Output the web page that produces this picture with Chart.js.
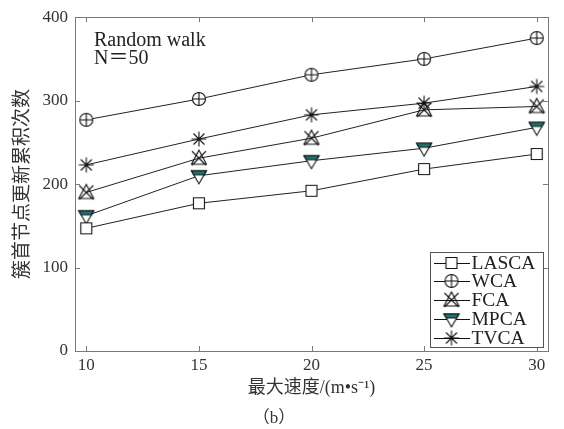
<!DOCTYPE html>
<html>
<head>
<meta charset="utf-8">
<script src="https://cdn.jsdelivr.net/npm/chart.js@4.4.1/dist/chart.umd.min.js"></script>
<style>
  html, body { margin: 0; padding: 0; background: #fff; }
</style>
</head>
<body>
<canvas id="walkChart" width="564" height="429"></canvas>
<script>
// values
const speeds = [10, 15, 20, 25, 30];
const lascaData = [147, 177, 192, 218, 236];
const wcaData = [277, 302, 331, 350, 375];
const fcaData = [190, 231, 255, 289, 293];
const mpcaData = [162, 210, 228, 243, 268];
const tvcaData = [223, 254, 283, 297, 317];
const seriesNames = ['LASCA', 'WCA', 'FCA', 'MPCA', 'TVCA'];
const xTicks = [10, 15, 20, 25, 30];
const yTicks = [0, 100, 200, 300, 400];

const serif = "'Liberation Serif', 'Noto Sans CJK SC', serif";
const ink = '#111';
const frameColor = '#7a7a7a';
const teal = '#1c7474';

// marker shapes
function drawShape(c, kind, cx, cy) {
    c.strokeStyle = ink;
    c.lineWidth = 1.1;
    c.beginPath();
    if (kind === 'square') {
        c.fillStyle = '#fff';
        c.rect(cx - 5.5, cy - 5.5, 11, 11);
        c.fill();
        c.stroke();
    } else if (kind === 'circlePlus') {
        c.fillStyle = '#fff';
        c.arc(cx, cy, 6.5, 0, Math.PI * 2);
        c.fill();
        c.moveTo(cx - 6.5, cy); c.lineTo(cx + 6.5, cy);
        c.moveTo(cx, cy - 6.5); c.lineTo(cx, cy + 6.5);
        c.stroke();
    } else if (kind === 'triX') {
        c.moveTo(cx, cy - 8); c.lineTo(cx + 7.5, cy + 6); c.lineTo(cx - 7.5, cy + 6); c.closePath();
        c.moveTo(cx - 7, cy - 7); c.lineTo(cx + 7, cy + 7);
        c.moveTo(cx + 7, cy - 7); c.lineTo(cx - 7, cy + 7);
        c.stroke();
    } else if (kind === 'triDown') {
        c.fillStyle = '#fff';
        c.moveTo(cx - 7.5, cy - 5); c.lineTo(cx + 7.5, cy - 5); c.lineTo(cx, cy + 8); c.closePath();
        c.fill();
        c.stroke();
        c.beginPath();
        c.fillStyle = teal;
        c.moveTo(cx - 7.5, cy - 5); c.lineTo(cx + 7.5, cy - 5);
        c.lineTo(cx + 5.2, cy - 1); c.lineTo(cx - 5.2, cy - 1); c.closePath();
        c.fill();
        c.stroke();
    } else if (kind === 'asterisk') {
        c.moveTo(cx - 7.5, cy); c.lineTo(cx + 7.5, cy);
        c.moveTo(cx, cy - 7.5); c.lineTo(cx, cy + 7.5);
        c.moveTo(cx - 5.5, cy - 5.5); c.lineTo(cx + 5.5, cy + 5.5);
        c.moveTo(cx + 5.5, cy - 5.5); c.lineTo(cx - 5.5, cy + 5.5);
        c.stroke();
    }
}

function makeMarker(kind) {
    const cv = document.createElement('canvas');
    cv.width = 20; cv.height = 20;
    drawShape(cv.getContext('2d'), kind, 10, 10);
    return cv;
}

function makeLegendIcon(kind) {
    const cv = document.createElement('canvas');
    cv.width = 36; cv.height = 20;
    const c = cv.getContext('2d');
    c.strokeStyle = ink;
    c.lineWidth = 1;
    c.beginPath();
    c.moveTo(0, 10.5); c.lineTo(36, 10.5);
    c.stroke();
    drawShape(c, kind, 18, 10);
    return cv;
}

const markerKinds = ['square', 'circlePlus', 'triX', 'triDown', 'asterisk'];
const allSeries = [lascaData, wcaData, fcaData, mpcaData, tvcaData];
const legendIcons = markerKinds.map(makeLegendIcon);

const datasets = allSeries.map(function (vals, i) {
    return {
        label: seriesNames[i],
        data: speeds.map(function (s, j) { return { x: s, y: vals[j] }; }),
        borderColor: '#222',
        borderWidth: 1,
        pointStyle: makeMarker(markerKinds[i]),
        pointRadius: 7,
        fill: false,
        tension: 0
    };
});

// frame, inward ticks, annotation text and inner legend
const plotDecor = {
    id: 'plotDecor',
    afterDatasetsDraw(chart) {
        const c = chart.ctx;
        const a = chart.chartArea;
        const xs = chart.scales.x, ys = chart.scales.y;
        c.save();
        c.strokeStyle = frameColor;
        c.lineWidth = 1;
        c.strokeRect(Math.round(a.left) + 0.5, Math.round(a.top) + 0.5,
            Math.round(a.right - a.left), Math.round(a.bottom - a.top));
        c.beginPath();
        xTicks.forEach(function (v) {
            const px = Math.round(xs.getPixelForValue(v)) + 0.5;
            c.moveTo(px, a.bottom); c.lineTo(px, a.bottom - 5);
            c.moveTo(px, a.top); c.lineTo(px, a.top + 5);
        });
        yTicks.forEach(function (v) {
            const py = Math.round(ys.getPixelForValue(v)) + 0.5;
            c.moveTo(a.left, py); c.lineTo(a.left + 5, py);
            c.moveTo(a.right, py); c.lineTo(a.right - 5, py);
        });
        c.stroke();

        // note text
        c.fillStyle = '#222';
        c.font = '20px ' + serif;
        c.textAlign = 'left';
        c.textBaseline = 'middle';
        c.fillText('Random walk', a.left + 19, a.top + 24);
        c.fillText('N＝50', a.left + 19, a.top + 42);

        // legend box
        const bw = 113, bh = 95;
        const bx = Math.round(a.right - 5 - bw) + 0.5;
        const by = Math.round(a.bottom - 4 - bh) + 0.5;
        c.fillStyle = '#fff';
        c.fillRect(bx, by, bw, bh);
        c.strokeStyle = '#555';
        c.strokeRect(bx, by, bw, bh);
        c.font = '19.5px ' + serif;
        chart.data.datasets.forEach(function (ds, i) {
            const cy = by + 10 + i * 18.8;
            c.drawImage(legendIcons[i], bx + 3, Math.round(cy - 10));
            c.fillStyle = '#222';
            c.fillText(ds.label, bx + 41, cy + 1);
        });
        c.restore();
    }
};

new Chart(document.getElementById('walkChart'), {
    type: 'line',
    data: { datasets: datasets },
    options: {
        responsive: false,
        animation: false,
        layout: { padding: { top: 16, right: 16, left: 0, bottom: 0 } },
        plugins: {
            legend: { display: false },
            tooltip: { enabled: false },
            title: {
                display: true,
                position: 'bottom',
                text: '（b）',
                color: '#333',
                padding: { top: 0, bottom: 1 },
                font: { family: serif, size: 17, weight: 'normal', lineHeight: '18px' }
            }
        },
        scales: {
            x: {
                type: 'linear',
                min: 9.5,
                max: 30.5,
                afterBuildTicks: function (s) { s.ticks = xTicks.map(function (v) { return { value: v }; }); },
                afterFit: function (s) { s.height = 59; },
                grid: { display: false, drawTicks: false },
                border: { display: false },
                ticks: { padding: 4, color: '#333', font: { family: serif, size: 17 } },
                title: {
                    display: true,
                    text: '最大速度/(m•s⁻¹)',
                    color: '#333',
                    padding: { top: 0, bottom: 11 },
                    font: { family: serif, size: 18, lineHeight: '22px' }
                }
            },
            y: {
                min: 0,
                max: 400,
                afterBuildTicks: function (s) { s.ticks = yTicks.map(function (v) { return { value: v }; }); },
                afterFit: function (s) { s.width = 75; },
                grid: { display: false, drawTicks: false },
                border: { display: false },
                ticks: { padding: 7, color: '#333', font: { family: serif, size: 17 } },
                title: {
                    display: true,
                    text: '簇首节点更新累积次数',
                    color: '#333',
                    padding: { top: 12, bottom: 0 },
                    font: { family: serif, size: 19 }
                }
            }
        }
    },
    plugins: [plotDecor]
});
</script>
</body>
</html>
